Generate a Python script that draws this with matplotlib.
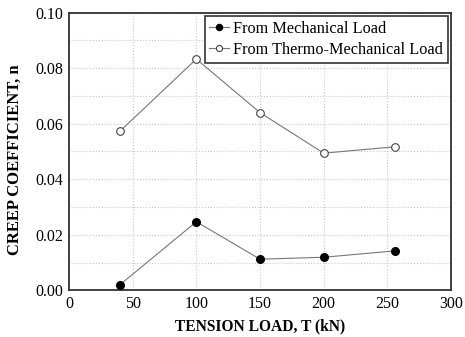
import matplotlib
matplotlib.use('Agg')
import matplotlib.pyplot as plt
from matplotlib.ticker import MultipleLocator

# tension load (kN) and creep coefficient n
load_mech = [40, 100, 150, 200, 256]
creep_mech = [0.0020, 0.0247, 0.0112, 0.0119, 0.0142]

load_thermo = [40, 100, 150, 200, 256]
creep_thermo = [0.0573, 0.0833, 0.0640, 0.0494, 0.0517]

x_ticks = [0, 50, 100, 150, 200, 250, 300]
y_ticks = [0.00, 0.02, 0.04, 0.06, 0.08, 0.10]

plt.rcParams['font.family'] = ['Liberation Serif', 'DejaVu Serif']

fig = plt.figure(figsize=(4.65, 3.37), dpi=100)
ax = fig.add_axes([0.1484, 0.1386, 0.8215, 0.8237])

ax.plot(load_mech, creep_mech, color='#777777', lw=0.8, marker='o',
        ms=5.5, mfc='black', mec='black', label='From Mechanical Load', zorder=3)
ax.plot(load_thermo, creep_thermo, color='#777777', lw=0.8, marker='o',
        ms=5.5, mfc='white', mec='#444444', mew=0.8,
        label='From Thermo-Mechanical Load', zorder=3)

ax.set_xlim(0, 300)
ax.set_ylim(0, 0.10)
ax.set_xticks(x_ticks)
ax.set_yticks(y_ticks)
ax.yaxis.set_minor_locator(MultipleLocator(0.01))
ax.set_yticklabels(['%.2f' % v for v in y_ticks])
ax.tick_params(which='both', length=0, labelsize=11.5, pad=4)

ax.grid(True, which='both', color='#c8c8c8', ls=':', lw=0.8)
ax.set_axisbelow(True)
for s in ax.spines.values():
    s.set_linewidth(1.3)
    s.set_color('#333333')

ax.set_xlabel('TENSION LOAD, T (kN)', fontsize=11.2, fontweight='bold', labelpad=5)
ax.set_ylabel('CREEP COEFFICIENT, n', fontsize=12, fontweight='bold')
ax.yaxis.set_label_coords(-0.12, 0.47)

leg = ax.legend(loc='upper right', fontsize=11.7, handlelength=1.2, handletextpad=0.25,
                borderpad=0.3, labelspacing=0.3, fancybox=False, framealpha=1,
                edgecolor='#333333', borderaxespad=0.2, markerscale=0.8)
leg.get_frame().set_linewidth(1.2)

fig.savefig('out.png', dpi=100)
